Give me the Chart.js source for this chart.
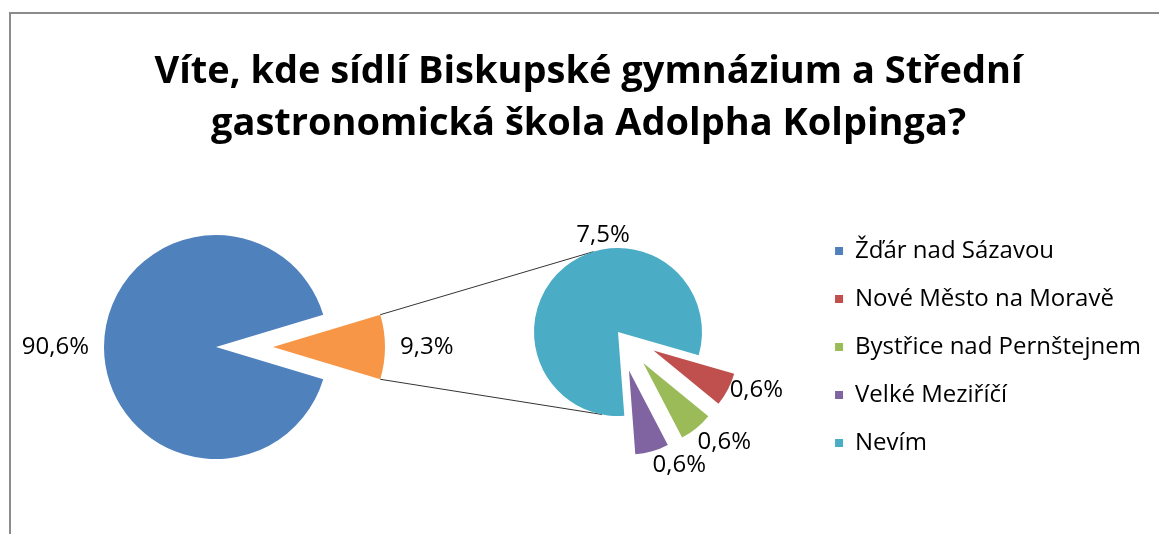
<!DOCTYPE html>
<html lang="cs">
<head>
<meta charset="utf-8">
<title>Víte, kde sídlí Biskupské gymnázium a Střední gastronomická škola Adolpha Kolpinga?</title>
<script src="https://cdn.jsdelivr.net/npm/chart.js@4.4.1/dist/chart.umd.min.js"></script>
<style>
  html, body { margin: 0; padding: 0; background: #fff; }
  #stage { position: relative; width: 1159px; height: 534px; overflow: hidden; }
  #frame { position: absolute; left: 9px; top: 12px; width: 1200px; height: 600px;
           border-left: 2px solid #8c8c8c; border-top: 2px solid #8c8c8c; }
  canvas { position: absolute; left: 0; top: 0; }
</style>
</head>
<body>
<div id="stage">
  <div id="frame"></div>
  <canvas id="heading" width="1159" height="534"></canvas>
  <canvas id="mainPie" width="1159" height="534"></canvas>
  <canvas id="subPie" width="1159" height="534"></canvas>
</div>
<script>
const titleLines = ["Víte, kde sídlí Biskupské gymnázium a Střední", "gastronomická škola Adolpha Kolpinga?"];
const categories = ["Žďár nad Sázavou", "Nové Město na Moravě", "Bystřice nad Pernštejnem", "Velké Meziříčí", "Nevím"];
const sliceColors = ["#4F81BD", "#C0504D", "#9BBB59", "#8064A2", "#4BACC6"];
const otherColor = "#F79646";

// main pie: Žďár + everything else (%)
const mainLabels = ["Žďár nad Sázavou", "Ostatní"];
const mainShares = [90.6, 9.3];
// second pie breaks down the 9,3 %
const subLabels = categories.slice(1);
const subShares = [0.6, 0.6, 0.6, 7.5];

Chart.defaults.font.family = "'Open Sans', sans-serif";
Chart.defaults.color = "#000";

const fmt = (v) => v.toFixed(1).replace(".", ",") + "%";

// push some slices out from the centre without making them bigger
const explode = {
  id: "explode",
  afterDatasetUpdate(chart, args, opts) {
    const dist = opts.distance || [];
    args.meta.data.forEach((arc, i) => {
      const d = dist[i] || 0;
      if (!d) return;
      const mid = (arc.startAngle + arc.endAngle) / 2;
      arc.x += Math.cos(mid) * d;
      arc.y += Math.sin(mid) * d;
    });
  }
};

// percentage labels just outside each slice
const sliceLabels = {
  id: "sliceLabels",
  afterDatasetsDraw(chart, args, opts) {
    const meta = chart.getDatasetMeta(0);
    const values = chart.data.datasets[0].data;
    const gap = opts.gap || 0;
    const angles = opts.angles || {};
    const ctx = chart.ctx;
    ctx.save();
    ctx.font = "24px 'Open Sans'";
    ctx.fillStyle = "#000";
    meta.data.forEach((arc, i) => {
      const a = angles[i] !== undefined ? angles[i] * Math.PI / 180 : (arc.startAngle + arc.endAngle) / 2;
      const c = Math.cos(a), s = Math.sin(a);
      const r = arc.outerRadius + gap;
      ctx.textAlign = c > 0.25 ? "left" : c < -0.25 ? "right" : "center";
      ctx.textBaseline = s > 0.6 ? "top" : s < -0.6 ? "bottom" : "middle";
      ctx.fillText(fmt(values[i]), arc.x + c * r, arc.y + s * r);
    });
    ctx.restore();
  }
};

// title + legend
new Chart(document.getElementById("heading"), {
  type: "pie",
  data: { labels: categories, datasets: [] },
  options: {
    responsive: false,
    animation: false,
    layout: { padding: { left: 26, right: 8, top: 0, bottom: 0 } },
    plugins: {
      title: {
        display: true,
        text: titleLines,
        color: "#000",
        font: { size: 38, weight: "bold", lineHeight: 52 / 38 },
        padding: { top: 46, bottom: 65 }
      },
      legend: {
        display: true,
        position: "right",
        align: "start",
        fullSize: false,
        labels: {
          boxWidth: 8,
          boxHeight: 8,
          padding: 24,
          color: "#000",
          font: { size: 24 },
          generateLabels: () => categories.map((text, i) => ({
            text: text,
            fillStyle: sliceColors[i],
            strokeStyle: sliceColors[i],
            lineWidth: 0,
            hidden: false,
            index: i
          }))
        }
      },
      tooltip: { enabled: false }
    }
  }
});

// left pie, "other" slice centred at 3 o'clock
const mainRotation = 90 + 180 * mainShares[1] / (mainShares[0] + mainShares[1]);
const mainChart = new Chart(document.getElementById("mainPie"), {
  type: "pie",
  data: {
    labels: mainLabels,
    datasets: [{
      data: mainShares,
      backgroundColor: [sliceColors[0], otherColor],
      borderWidth: 0,
      radius: 112,
      rotation: mainRotation
    }]
  },
  options: {
    responsive: false,
    animation: false,
    layout: { padding: { left: 0, right: 727, top: 160, bottom: 0 } },
    plugins: {
      legend: { display: false },
      tooltip: { enabled: false },
      explode: { distance: [0, 57] },
      sliceLabels: { gap: 15 }
    }
  },
  plugins: [explode, sliceLabels]
});

// lines from the "other" slice to the second pie
const connectors = {
  id: "connectors",
  beforeDatasetsDraw(chart, args, opts) {
    const other = mainChart.getDatasetMeta(0).data[1];
    const area = chart.chartArea;
    const cx = (area.left + area.right) / 2, cy = (area.top + area.bottom) / 2;
    const r = chart.getDatasetMeta(0).data[0].outerRadius;
    const ends = [other.startAngle, other.endAngle];
    const ctx = chart.ctx;
    ctx.save();
    ctx.strokeStyle = "#333";
    ctx.lineWidth = 1;
    ends.forEach((ang, k) => {
      const t = opts.angles[k] * Math.PI / 180;
      ctx.beginPath();
      ctx.moveTo(other.x + Math.cos(ang) * other.outerRadius, other.y + Math.sin(ang) * other.outerRadius);
      ctx.lineTo(cx + Math.cos(t) * r, cy + Math.sin(t) * r);
      ctx.stroke();
    });
    ctx.restore();
  }
};

// right pie
new Chart(document.getElementById("subPie"), {
  type: "pie",
  data: {
    labels: subLabels,
    datasets: [{
      data: subShares,
      backgroundColor: sliceColors.slice(1),
      borderWidth: 0,
      radius: 84,
      rotation: 106
    }]
  },
  options: {
    responsive: false,
    animation: false,
    layout: { padding: { left: 418, right: 341, top: 132, bottom: 2 } },
    plugins: {
      legend: { display: false },
      tooltip: { enabled: false },
      explode: { distance: [40, 40, 40, 0] },
      sliceLabels: { gap: 2, angles: { 3: -100 } },
      connectors: { angles: [-107, 101] }
    }
  },
  plugins: [explode, sliceLabels, connectors]
});
</script>
</body>
</html>
